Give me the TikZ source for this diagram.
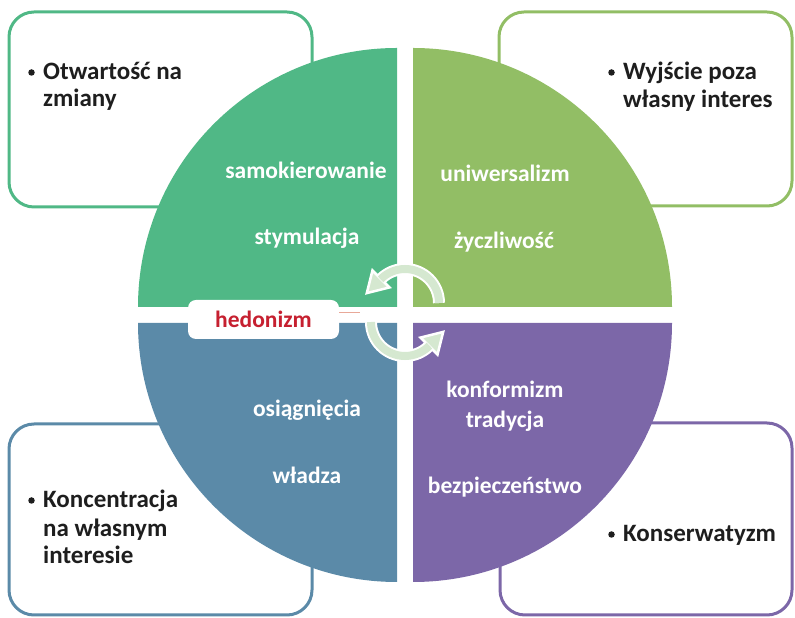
\documentclass[tikz,border=0pt]{standalone}
\usepackage{fontspec}
\setmainfont{Carlito}
\usetikzlibrary{calc}
\definecolor{qtl}{HTML}{50B886}
\definecolor{qtr}{HTML}{92BE65}
\definecolor{qbl}{HTML}{5B8AA8}
\definecolor{qbr}{HTML}{7C67A8}
\definecolor{hedred}{HTML}{C62030}
\definecolor{arrowfill}{HTML}{D5E8D0}
\definecolor{salmon}{HTML}{E8A898}
\definecolor{darktext}{HTML}{1E1E1E}
\begin{document}
\begin{tikzpicture}[x=1pt,y=1pt,
  boxline/.style={line width=3pt, rounded corners=25pt},
  intext/.style={text=white, font=\bfseries\fontsize{23.5}{28}\selectfont, anchor=base, inner sep=0pt},
  outtext/.style={text=darktext, font=\bfseries\fontsize{25}{30}\selectfont, anchor=base west, inner sep=0pt},
  bulletdot/.style={circle, fill=darktext, minimum size=6.5pt, inner sep=0pt},
  hedbox/.style={fill=white, rounded corners=8pt, minimum width=151pt, minimum height=39pt, inner sep=0pt,
    text=hedred, font=\bfseries\fontsize{23.5}{28}\selectfont},
  arrowout/.style={white, line width=12pt},
  arrowin/.style={arrowfill, line width=8pt},
  arrowhead/.style={draw=white, line width=2.5pt, fill=arrowfill, line join=miter}]
\useasboundingbox (0,0) rectangle (795,618);

% outer boxes
\draw[boxline, draw=qtl] (9,411) rectangle (312,606);
\draw[boxline, draw=qtr] (499,412) rectangle (792,606);
\draw[boxline, draw=qbl] (9,3) rectangle (312,194);
\draw[boxline, draw=qbr] (500,3) rectangle (792,195);

% quadrants
\fill[qtl] (397,311) -- ++(180:259) arc (180:90:259) -- cycle;
\fill[qtr] (413,311) -- ++(0:259) arc (0:90:259) -- cycle;
\fill[qbl] (397,295) -- ++(180:259) arc (180:270:259) -- cycle;
\fill[qbr] (413,295) -- ++(270:259) arc (270:360:259) -- cycle;

% hedonizm
\node[hedbox] (hed) at (263.5,298.5) {hedonizm};
\coordinate (hedend) at (360,306);
\draw[salmon, line width=0.8pt] ([yshift=7.5pt]hed.east) -- (hedend);

% circular arrows
\begin{scope}[shift={(405,315)}]
  \draw[arrowout] (0:34) arc (0:135:34);
  \filldraw[arrowhead] (135:22) -- ($(135:34)+(225:20)$) -- (135:46) -- cycle;
  \draw[arrowin] (0:34) arc (0:136:34);
\end{scope}
\begin{scope}[shift={(405,296)}, rotate=180]
  \draw[arrowout] (0:34) arc (0:135:34);
  \filldraw[arrowhead] (135:22) -- ($(135:34)+(225:20)$) -- (135:46) -- cycle;
  \draw[arrowin] (0:34) arc (0:136:34);
\end{scope}

% circle texts
\node[intext] (samo) at (306,439) {samokierowanie};
\node[intext] (stym) at (307,373) {stymulacja};
\node[intext] (uniw) at (505,436) {uniwersalizm};
\node[intext] (zycz) at (504,369) {życzliwość};
\node[intext] (osia) at (307,201) {osiągnięcia};
\node[intext] (wlad) at (307,134) {władza};
\node[intext] (konf) at (505,220) {konformizm};
\node[intext] (trad) at (505,190) {tradycja};
\node[intext] (bezp) at (505,124) {bezpieczeństwo};

% box texts
\node[bulletdot] (b1) at (31.5,545.5) {};
\node[outtext] (t1a) at (43,538) {Otwartość na};
\node[outtext] (t1b) at (43,511) {zmiany};
\node[bulletdot] (b2) at (611.5,545.5) {};
\node[outtext] (t2a) at (623,538) {Wyjście poza};
\node[outtext] (t2b) at (623,510) {własny interes};
\node[bulletdot] (b3) at (31.5,117.5) {};
\node[outtext] (t3a) at (43,110) {Koncentracja};
\node[outtext] (t3b) at (43,81) {na własnym};
\node[outtext] (t3c) at (43,54) {interesie};
\node[bulletdot] (b4) at (611.5,83.5) {};
\node[outtext] (t4) at (623,76) {Konserwatyzm};
\end{tikzpicture}
\end{document}
